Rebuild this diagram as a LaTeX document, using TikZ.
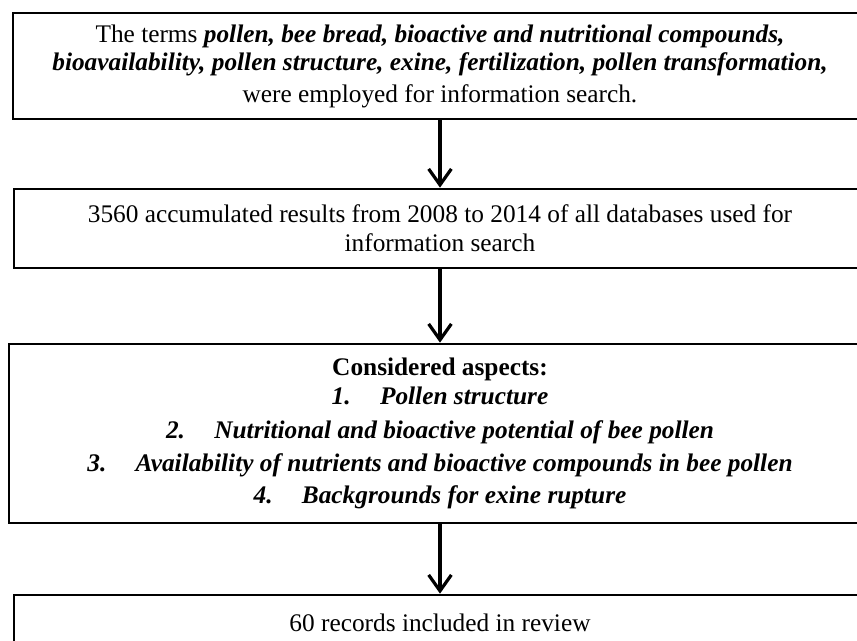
\documentclass[tikz,border=0pt]{standalone}
\usepackage{fontspec}
\setmainfont{Liberation Serif}
\usetikzlibrary{arrows.meta}

\begin{document}
\begin{tikzpicture}[x=0.75pt,y=0.75pt,yscale=-1,xscale=1,
  stagebox/.style={draw, line width=2pt, rectangle, align=center, inner sep=0pt,
    font=\fontsize{19}{22}\selectfont},
  flowarrow/.style={line width=2.4pt, -{Straight Barb[length=12pt,width=17pt,line width=2.4pt]}}]
%set diagram left start at 0, and has height of 640
\useasboundingbox (0,0) rectangle (857,640);

%Shape: Rectangle [terms]
\node[stagebox, minimum width=640.5pt, minimum height=79.5pt] (terms) at (440,66)
  {The terms \textbf{\textit{pollen, bee bread, bioactive and nutritional compounds,}}\\[-1pt]
   \textbf{\textit{bioavailability, pollen structure, exine, fertilization, pollen transformation,}}\\[2pt]
   were employed for information search.};
%Shape: Rectangle [results]
\node[stagebox, minimum width=639pt, minimum height=59.25pt] (results) at (440,228.5)
  {3560 accumulated results from 2008 to 2014 of all databases used for\\
   information search};
%Shape: Rectangle [aspects]
\node[stagebox, minimum width=646.5pt, minimum height=134.25pt] (aspects) at (440,433.5)
  {\textbf{Considered aspects:}\\
   \textbf{\textit{1.\hspace{22pt}Pollen structure}}\\[3pt]
   \textbf{\textit{2.\hspace{22pt}Nutritional and bioactive potential of bee pollen}}\\[3pt]
   \textbf{\textit{3.\hspace{22pt}Availability of nutrients and bioactive compounds in bee pollen}}\\[2pt]
   \textbf{\textit{4.\hspace{22pt}Backgrounds for exine rupture}}};
%Shape: Rectangle [records]
\node[stagebox, minimum width=639pt, minimum height=41.25pt] (records) at (440,622.5)
  {60 records included in review};

%Straight Lines [arrows]
\draw[flowarrow] (terms.south) -- (results.north);
\draw[flowarrow] (results.south) -- (aspects.north);
\draw[flowarrow] (aspects.south) -- (records.north);

\end{tikzpicture}
\end{document}
